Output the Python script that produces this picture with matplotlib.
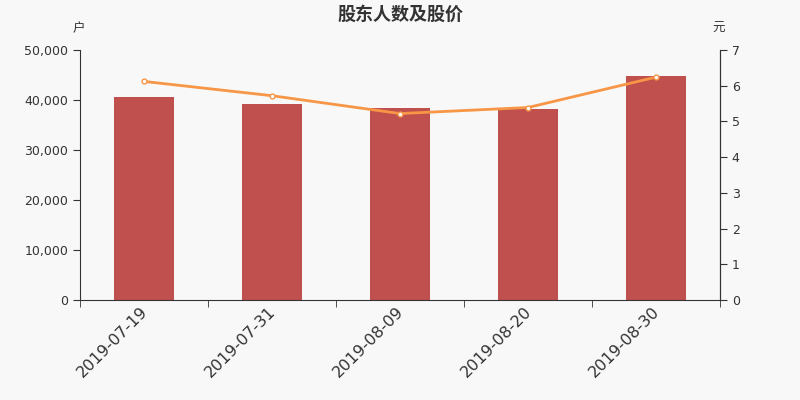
import matplotlib
matplotlib.use("Agg")
import matplotlib.pyplot as plt
import matplotlib.transforms as mtransforms
from matplotlib.ticker import FuncFormatter, FixedLocator

plt.rcParams['font.family'] = ['DejaVu Sans', 'Noto Sans CJK SC']

dates = ["2019-07-19", "2019-07-31", "2019-08-09", "2019-08-20", "2019-08-30"]
holders = [40650, 39200, 38400, 38200, 44850]
prices = [6.12, 5.72, 5.22, 5.39, 6.24]

bg = "#f8f8f8"
axcol = "#333333"
bar_color = "#c0504d"
line_color = "#f79646"

fig = plt.figure(figsize=(8, 4), dpi=100, facecolor=bg)
ax = fig.add_axes([0.1, 0.25, 0.8, 0.625], facecolor=bg)
x = list(range(len(dates)))
ax.bar(x, holders, width=0.47, color=bar_color, zorder=2)
ax.set_xlim(-0.5, len(dates) - 0.5)
ax.set_ylim(0, 50000)
ax.set_yticks([0, 10000, 20000, 30000, 40000, 50000])
ax.yaxis.set_major_formatter(FuncFormatter(lambda v, p: f"{int(v):,}"))
ax.set_xticks(x)
ax.set_xticklabels(dates, rotation=45, ha='right', rotation_mode='anchor', fontsize=11.5, color=axcol)
ax.tick_params(axis='x', which='major', length=0, pad=3)
off = mtransforms.ScaledTranslation(-4 / 100, 0, fig.dpi_scale_trans)
for lab in ax.get_xticklabels():
    lab.set_transform(lab.get_transform() + off)
ax.xaxis.set_minor_locator(FixedLocator([i - 0.5 for i in range(len(dates) + 1)]))
ax.tick_params(axis='x', which='minor', length=5, color=axcol)
ax.tick_params(axis='y', length=5, color=axcol, labelcolor=axcol, labelsize=9)
for s in ['top']:
    ax.spines[s].set_visible(False)
for s in ['left', 'right', 'bottom']:
    ax.spines[s].set_color(axcol)

ax2 = ax.twinx()
ax2.plot(x, prices, color=line_color, linewidth=2, marker='o', markersize=3.5,
         markerfacecolor='white', markeredgecolor=line_color, markeredgewidth=1, zorder=3)
ax2.set_ylim(0, 7)
ax2.set_yticks(range(0, 8))
ax2.tick_params(axis='y', length=5, color=axcol, labelcolor=axcol, labelsize=9)
for s in ['top', 'left', 'bottom']:
    ax2.spines[s].set_visible(False)
ax2.spines['right'].set_color(axcol)

cjk = ['Noto Sans CJK SC', 'DejaVu Sans']
fig.text(0.5, 0.965, "股东人数及股价", ha='center', va='center', fontsize=13,
         fontweight='bold', color=axcol, family=cjk)
fig.text(0.098, 0.928, "户", ha='center', va='center', fontsize=9, color=axcol, family=cjk)
fig.text(0.898, 0.928, "元", ha='center', va='center', fontsize=9, color=axcol, family=cjk)

fig.savefig("out.png", dpi=100, facecolor=bg)
